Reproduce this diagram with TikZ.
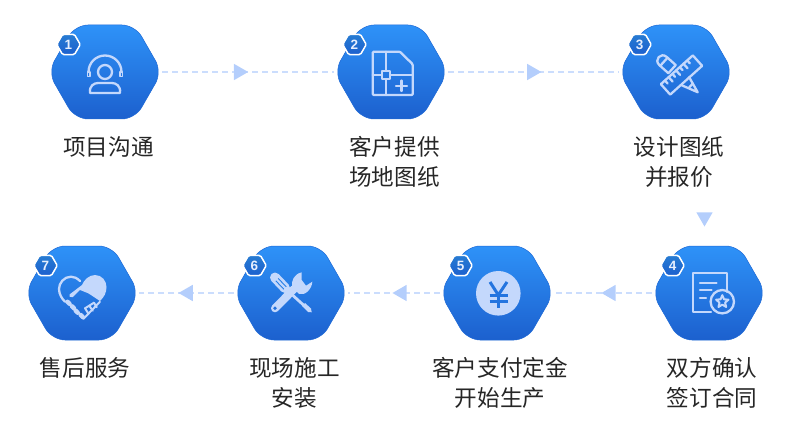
\documentclass[tikz,border=0pt]{standalone}
\usepackage{fontspec}
\setmainfont{Liberation Sans}
\newfontfamily\cjk{Noto Sans CJK SC}
\usetikzlibrary{calc,shapes.geometric}
\definecolor{hextop}{HTML}{2E92F8}
\definecolor{hexbot}{HTML}{1C60CE}
\definecolor{iconc}{HTML}{C4D8FC}
\definecolor{dashc}{HTML}{CBDDFD}
\definecolor{tric}{HTML}{B4CEFC}
\tikzset{
  hexbox/.style={rectangle, minimum width=106pt, minimum height=94pt, inner sep=0pt},
  hexfill/.style={rounded corners=13pt, top color=hextop, bottom color=hexbot, draw=hexbot!80!hextop, line width=0.5pt},
  badge/.style={regular polygon, regular polygon sides=6, minimum size=23.5pt, inner sep=0pt,
    rounded corners=1.5pt, top color=hextop!85!black, bottom color=hexbot, draw=white, line width=1.5pt,
    text=iconc!40!white, font=\fontsize{13.5}{13.5}\selectfont\bfseries},
  steplabel/.style={anchor=north, align=center, inner sep=0pt, text=black!85,
    font=\cjk\fontsize{22.6}{30}\selectfont},
  flowline/.style={draw=dashc, line width=2pt, dash pattern=on 6pt off 4pt, shorten >=4pt, shorten <=4pt},
  flowtri/.style={regular polygon, regular polygon sides=3, minimum size=19pt, inner sep=0pt, fill=tric},
  iconline/.style={draw=iconc, line width=2.3pt, line join=round, line cap=round},
  iconfill/.style={fill=iconc, draw=none},
}
\newcommand{\stephex}[2]{%
  \node[hexbox] (#1) at #2 {};
  \path[hexfill] ($(#1)+(-57,0)$) -- ($(#1)+(-30,-47)$) -- ($(#1)+(30,-47)$) -- ($(#1)+(57,0)$)
    -- ($(#1)+(30,47)$) -- ($(#1)+(-30,47)$) -- cycle;}
\begin{document}
\begin{tikzpicture}[x=1pt,y=-1pt]
  \useasboundingbox (0,0) rectangle (790,441);
  \stephex{S1}{(105,72)}
  \stephex{S2}{(391,72)}
  \stephex{S3}{(676,72)}
  \stephex{S4}{(709,293)}
  \stephex{S5}{(497,293)}
  \stephex{S6}{(291,293)}
  \stephex{S7}{(82,293)}
  \node[badge] (B1) at ($(S1)+(-36.5,-27.5)$) {1};
  \node[badge] (B2) at ($(S2)+(-36.5,-27.5)$) {2};
  \node[badge] (B3) at ($(S3)+(-36.5,-27.5)$) {3};
  \node[badge] (B4) at ($(S4)+(-36.5,-27.5)$) {4};
  \node[badge] (B5) at ($(S5)+(-36.5,-27.5)$) {5};
  \node[badge] (B6) at ($(S6)+(-36.5,-27.5)$) {6};
  \node[badge] (B7) at ($(S7)+(-36.5,-27.5)$) {7};
  \node[steplabel] (L1) at ($(S1)+(3.5,64)$) {项目沟通};
  \node[steplabel] (L2) at ($(S2)+(3.5,64)$) {客户提供\\场地图纸};
  \node[steplabel] (L3) at ($(S3)+(3,64)$) {设计图纸\\并报价};
  \node[steplabel] (L4) at ($(S4)+(3,64)$) {双方确认\\签订合同};
  \node[steplabel] (L5) at ($(S5)+(3,64)$) {客户支付定金\\开始生产};
  \node[steplabel] (L6) at ($(S6)+(3.5,64)$) {现场施工\\安装};
  \node[steplabel] (L7) at ($(S7)+(3,64)$) {售后服务};
  \draw[flowline] (S1.east) -- (S2.west) node[flowtri, pos=0.448, shape border rotate=-90] (T1) {};
  \draw[flowline] (S2.east) -- (S3.west) node[flowtri, pos=0.491, shape border rotate=-90] (T2) {};
  \node[flowtri, shape border rotate=180] (T3) at (704.5,217) {};
  \draw[flowline] (S4.west) -- (S5.east) node[flowtri, pos=0.425, shape border rotate=90] (T4) {};
  \draw[flowline] (S5.west) -- (S6.east) node[flowtri, pos=0.42, shape border rotate=90] (T5) {};
  \draw[flowline] (S6.west) -- (S7.east) node[flowtri, pos=0.485, shape border rotate=90] (T6) {};
  \begin{scope}[shift={(S1)}]
    \draw[iconline] (-16.5,0) arc (180:360:16.5);
    \draw[iconline, line width=1.6pt] (-17.5,0) rectangle (-15,4.5);
    \draw[iconline, line width=1.6pt] (15,0) rectangle (17.5,4.5);
    \draw[iconline] (0,0) circle (7);
    \draw[iconline] (-15,21) .. controls (-16,14) and (-11,11) .. (-7,11) -- (7,11) .. controls (11,11) and (16,14) .. (15,21) -- cycle;
  \end{scope}
  \begin{scope}[shift={(S2)}]
    \draw[iconline, rounded corners=1pt] (-18.3,-20.3) -- (9,-20.3) -- (21.7,-7.7) -- (21.7,23) -- (-18.3,23) -- cycle;
    \draw[iconline] (-5,-20.3) -- (-5,-1);
    \draw[iconline] (-5,7) -- (-5,23);
    \draw[iconline] (-18.3,3) -- (-9,3);
    \draw[iconline] (-1,3) -- (21.7,3);
    \draw[iconline] (-9,-1) rectangle (-1,7);
    \draw[iconline] (5,13.7) -- (16,13.7);
    \draw[iconline] (10.5,8.5) -- (10.5,19);
  \end{scope}
  \begin{scope}[shift={(S3)}]
    \begin{scope}[shift={(2,2.5)}, rotate=-42]
      \draw[iconline] (-8,-5.5) -- (-20,-5.5) .. controls (-28,-5.5) and (-28,5.5) .. (-20,5.5) -- (-8,5.5) -- cycle;
      \draw[iconline] (-19,-5.5) -- (-19,5.5);
      \draw[iconline] (10,-5.5) -- (26.5,0) -- (10,5.5);
      \draw[iconline] (17,-3) -- (17,3);
    \end{scope}
    \begin{scope}[shift={(5.5,3)}, rotate=42]
      \draw[iconline] (-21.5,-7) rectangle (21.5,7);
      \draw[iconline] (-16,-7) -- (-16,-3);
      \draw[iconline] (-11,-7) -- (-11,-1);
      \draw[iconline] (-6,-7) -- (-6,-3);
      \draw[iconline] (-1,-7) -- (-1,-1);
      \draw[iconline] (4,-7) -- (4,-3);
      \draw[iconline] (9,-7) -- (9,-1);
      \draw[iconline] (14,-7) -- (14,-3);
    \end{scope}
  \end{scope}
  \begin{scope}[shift={(S4)}]
    \draw[iconline] (17.7,-1) -- (17.7,-19.7) -- (-15.7,-19.7) -- (-15.7,18.7) -- (2,18.7);
    \draw[iconline] (-9,-10.3) -- (7.5,-10.3);
    \draw[iconline] (-9,-3) -- (2.5,-3);
    \draw[iconline] (-9,5.3) -- (-3,5.3);
    \draw[iconline] (13.3,8.7) circle (11.7);
    \node[star, star points=5, star point ratio=2.2, minimum size=13pt, inner sep=0pt, draw=iconc, line width=2pt, line join=round] (Star4) at (13.3,8.7) {};
  \end{scope}
  \begin{scope}[shift={(S5)}]
    \fill[iconfill] (1.3,0.3) circle (22.3);
    \draw[draw=hexbot!60!hextop, line width=3pt] (-7,-11) -- (1.3,2) -- (10,-11);
    \draw[draw=hexbot!60!hextop, line width=2.4pt] (-7.5,2.5) -- (10.5,2.5);
    \draw[draw=hexbot!60!hextop, line width=2.4pt] (-7.5,8.5) -- (10.5,8.5);
    \draw[draw=hexbot!60!hextop, line width=3pt] (1.3,2) -- (1.3,15);
  \end{scope}
  \begin{scope}[shift={(S6)}]
    \draw[iconc, line width=10pt, line cap=round] (-16,-15.5) -- (-6,-5);
    \draw[hextop!60!hexbot, line width=0.9pt] (-12.8,-14.6) -- (-4.8,-6.2);
    \draw[hextop!60!hexbot, line width=0.9pt] (-15.2,-12.2) -- (-7.2,-3.8);
    \draw[iconc, line width=2.8pt] (-6,-4.7) -- (13,12.5);
    \fill[iconfill] (11,13) -- (14,10) -- (20,15.5) -- (20.7,19.3) -- (17,19) -- cycle;
    \draw[iconc, line width=8pt, line cap=round] (-16,15.3) -- (3,-4);
    \fill[iconfill] (10.7,-20.7) .. controls (3,-19) and (0,-12) .. (1,-6) -- (8,1) .. controls (14,3) and (21,-4) .. (21.3,-11.3) -- (15,-7.3) -- (10.7,-13) -- cycle;
    \fill[hextop!35!hexbot] (-16,15.3) circle (1.9);
  \end{scope}
  \begin{scope}[shift={(S7)}]
    \draw[iconline] (-2,-12) .. controls (-5,-15) and (-8,-16.3) .. (-11,-16.3) .. controls (-18,-16.3) and (-23,-10) .. (-23,-4) .. controls (-23,1) and (-20,6) .. (-17,8.7);
    \fill[iconfill] (-12.5,1.5) -- (0,-8) .. controls (2,-13) and (7,-18) .. (13,-18) .. controls (20,-18) and (24.5,-12) .. (24.5,-6) .. controls (24.5,0) and (22,4) .. (18,8) -- (6.3,0.3) -- (-2,-3) -- (-9.3,4.2) .. controls (-11.5,5) and (-14,3) .. (-12.5,1.5) -- cycle;
    \draw[iconline, line width=2pt] (18,8.7) -- (1.3,26);
    \draw[iconline, line width=4.5pt] (-14.5,8.8) -- (-12.5,10.8);
    \draw[iconline, line width=4.5pt] (-10,13.3) -- (-8,15.3);
    \draw[iconline, line width=4.5pt] (-6.3,17.7) -- (-4.3,19.7);
    \draw[iconline, line width=4.5pt] (-1.3,22) -- (0.7,24);
    \draw[iconline, line width=2pt] (3,15.3) -- (6.3,20.3);
    \draw[iconline, line width=2pt] (7.3,12.7) -- (10.7,17.7);
    \draw[iconline, line width=2pt] (12,9.7) -- (14.7,14.3);
    \draw[iconline, line width=2pt] (3,15.3) -- (12,9.7);
  \end{scope}
\end{tikzpicture}
\end{document}
